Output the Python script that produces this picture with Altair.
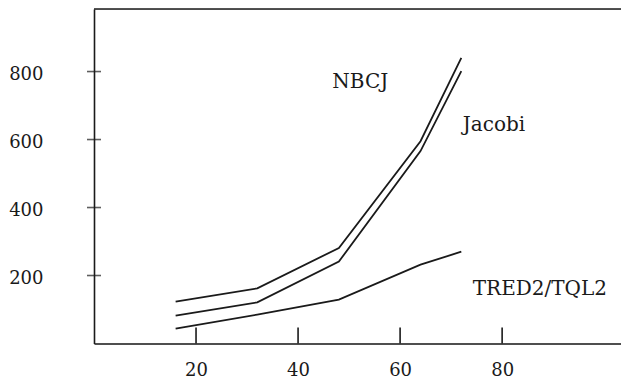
import altair as alt
import pandas as pd

# Matrix order n and time for each method
n_values = [16, 32, 48, 64, 72]
nbcj = [123, 162, 281, 595, 840]
jacobi = [82, 121, 241, 566, 801]
tred2 = [44, 85, 129, 232, 270]

# tick values
x_ticks = [20, 40, 60, 80]
y_ticks = [200, 400, 600, 800]

# annotations (data coordinates)
ann_labels = ["NBCJ", "Jacobi", "TRED2/TQL2"]
ann_x = [52.2, 78.4, 87.4]
ann_y = [769, 644, 159]

X_MAX = 103.3
Y_MAX = 984
W = 527
H = 334.5
INK = "#1a1a1a"
FONT = "DejaVu Serif"

rows = []
for name, vals in [("NBCJ", nbcj), ("Jacobi", jacobi), ("TRED2/TQL2", tred2)]:
    for n, v in zip(n_values, vals):
        rows.append({"n": n, "t": v, "series": name})
df = pd.DataFrame(rows)

xs = alt.Scale(domain=[0, X_MAX], nice=False, zero=False)
ys = alt.Scale(domain=[0, Y_MAX], nice=False)

lines = alt.Chart(df).mark_line(color=INK, strokeWidth=1.8, clip=False).encode(
    x=alt.X("n:Q", scale=xs, axis=alt.Axis(
        values=x_ticks, ticks=False, grid=False, title=None, domainColor=INK,
        domainWidth=1.6, labelFont=FONT, labelFontSize=18, labelColor=INK,
        labelPadding=32, labelBaseline="alphabetic")),
    y=alt.Y("t:Q", scale=ys, axis=alt.Axis(
        values=y_ticks, ticks=False, grid=False, title=None, domainColor=INK,
        domainWidth=1.6, labelFont=FONT, labelFontSize=18, labelColor=INK,
        labelPadding=51, labelOffset=3)),
    detail="series:N",
)

ytick_df = pd.DataFrame({"v": y_ticks})
yticks = alt.Chart(ytick_df).mark_tick(color=INK, size=14, thickness=1.6, orient="horizontal").encode(
    y=alt.Y("v:Q", scale=ys),
    x=alt.value(0),
)

xtick_df = pd.DataFrame({"v": x_ticks})
xticks = alt.Chart(xtick_df).mark_rule(color=INK, strokeWidth=1.6).encode(
    x=alt.X("v:Q", scale=xs),
    y=alt.value(H),
    y2=alt.value(H - 16),
)

top = alt.Chart(pd.DataFrame({"v": [Y_MAX]})).mark_rule(color=INK, strokeWidth=1.6).encode(
    y=alt.Y("v:Q", scale=ys)
)

ann_df = pd.DataFrame({"label": ann_labels, "x": ann_x, "y": ann_y})
ann = alt.Chart(ann_df).mark_text(font=FONT, fontSize=20, color=INK, baseline="middle", align="center").encode(
    x=alt.X("x:Q", scale=xs),
    y=alt.Y("y:Q", scale=ys),
    text="label:N",
)

chart = alt.layer(lines, yticks, xticks, top, ann).properties(
    width=W, height=H,
    autosize=alt.AutoSizeParams(type="none"),
    padding={"left": 86, "top": 1, "right": 0, "bottom": 39.5},
).configure_view(strokeWidth=0).configure(background="white")

chart.save("out.html", embed_options={"renderer": "svg", "actions": False})
